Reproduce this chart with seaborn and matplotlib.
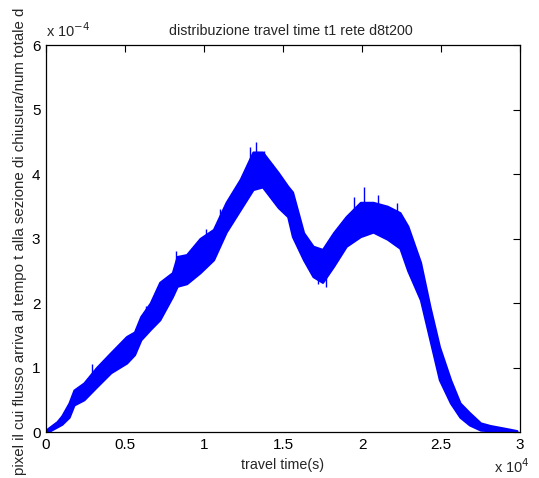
import numpy as np
import pandas as pd
import matplotlib
matplotlib.use("Agg")
import matplotlib.pyplot as plt
import seaborn as sns
from matplotlib.ticker import FixedLocator, FuncFormatter

# travel time (s) and the lower / upper extent of the noisy distribution (units of 1e-4)
travel_time = [0, 100, 700, 1000, 1460, 1770, 2400, 3200, 4100, 5100, 5600, 6000,
               6600, 7200, 8000, 8300, 8900, 9750, 10600, 11400, 12300, 13100,
               13700, 14700, 15300, 15600, 16300, 16900, 17500, 18200, 19000,
               19900, 20700, 21600, 22400, 22900, 23700, 24300, 24900, 25600,
               26200, 26800, 27500, 28100, 29400, 29800]
dist_low = [0.00, 0.00, 0.08, 0.12, 0.23, 0.42, 0.50, 0.70, 0.92, 1.07, 1.20, 1.43,
            1.59, 1.74, 2.10, 2.26, 2.30, 2.47, 2.67, 3.10, 3.45, 3.76,
            3.80, 3.48, 3.34, 3.03, 2.67, 2.41, 2.32, 2.57, 2.88,
            3.03, 3.10, 2.99, 2.85, 2.50, 2.05, 1.43, 0.81, 0.45,
            0.23, 0.11, 0.03, 0.02, 0.00, 0.00]
dist_high = [0.02, 0.05, 0.16, 0.25, 0.45, 0.65, 0.76, 1.00, 1.23, 1.48, 1.55, 1.79,
             2.00, 2.32, 2.47, 2.72, 2.75, 3.00, 3.14, 3.56, 3.92, 4.34,
             4.34, 4.02, 3.81, 3.72, 3.09, 2.88, 2.83, 3.09, 3.34,
             3.56, 3.56, 3.50, 3.40, 3.19, 2.63, 1.94, 1.32, 0.81,
             0.45, 0.30, 0.14, 0.10, 0.04, 0.02]

# isolated noise spikes standing out of the band (travel time, tip value in 1e-4)
spike_time = [2900, 6300, 8200, 10100, 11000, 12900, 13300, 13800, 14300,
              17200, 17700, 19500, 20100, 21000, 22200]
spike_tip = [1.05, 1.95, 2.80, 3.14, 3.45, 4.42, 4.50, 4.35, 4.15,
             2.30, 2.25, 3.65, 3.80, 3.68, 3.55]

x_ticks = [0, 5000, 10000, 15000, 20000, 25000, 30000]
x_tick_labels = ["0", "0.5", "1", "1.5", "2", "2.5", "3"]
y_ticks = [0, 1, 2, 3, 4, 5, 6]
y_tick_labels = ["0", "1", "2", "3", "4", "5", "6"]

scale = 1e-4
df = pd.DataFrame({
    "t": travel_time + travel_time,
    "v": [v * scale for v in dist_low] + [v * scale for v in dist_high],
})

sns.set_style("white")
plt.rcParams["font.family"] = ["Liberation Sans", "DejaVu Sans"]

fig = plt.figure(figsize=(5.39, 4.78), dpi=100)
ax = fig.add_axes([46 / 539, 1 - 432 / 478, 474 / 539, 387 / 478])

blue = "#0000ff"
sns.lineplot(data=df, x="t", y="v", estimator="mean", errorbar=("pi", 100),
             color=blue, linewidth=1.0, ax=ax,
             err_kws={"alpha": 1.0, "edgecolor": blue, "linewidth": 1.6})

# spikes run from the middle of the band out to their tips
mid = [(lo + hi) / 2 for lo, hi in zip(dist_low, dist_high)]
spike_base = np.interp(spike_time, travel_time, mid)
ax.vlines(spike_time, np.array(spike_base) * scale, np.array(spike_tip) * scale,
          color=blue, linewidth=1.0)

ax.set_xlim(0, 30000)
ax.set_ylim(0, 6 * scale)
ax.xaxis.set_major_locator(FixedLocator(x_ticks))
ax.xaxis.set_major_formatter(FuncFormatter(lambda v, p: x_tick_labels[p] if p is not None and p < len(x_tick_labels) else ""))
ax.yaxis.set_major_locator(FixedLocator([t * scale for t in y_ticks]))
ax.yaxis.set_major_formatter(FuncFormatter(lambda v, p: y_tick_labels[p] if p is not None and p < len(y_tick_labels) else ""))

for side in ["top", "right", "bottom", "left"]:
    ax.spines[side].set_visible(True)
    ax.spines[side].set_color("black")
    ax.spines[side].set_linewidth(0.9)
ax.tick_params(direction="in", length=5, width=0.8, top=True, right=True,
               labelsize=11, colors="black", pad=4)

ax.set_xlabel("travel time(s)", fontsize=10.3, labelpad=5)
ax.set_ylabel("")
ax.set_title("distribuzione travel time t1 rete d8t200", fontsize=10.3, pad=7, x=0.517)

fig.text(20 / 539, 1 - 475 / 478,
         "pixel il cui flusso arriva al tempo t alla sezione di chiusura/num totale d",
         rotation=90, rotation_mode="anchor", ha="left", va="center", fontsize=10.8)

ax.text(0.0, 1.012, r"x 10$^{-4}$", transform=ax.transAxes, ha="left", va="bottom",
        fontsize=10.5)
fig.text(530 / 539, 1 - 473 / 478, r"x 10$^{4}$", ha="right", va="baseline",
         fontsize=10.5)

fig.savefig("out.png", dpi=100, facecolor="white")
